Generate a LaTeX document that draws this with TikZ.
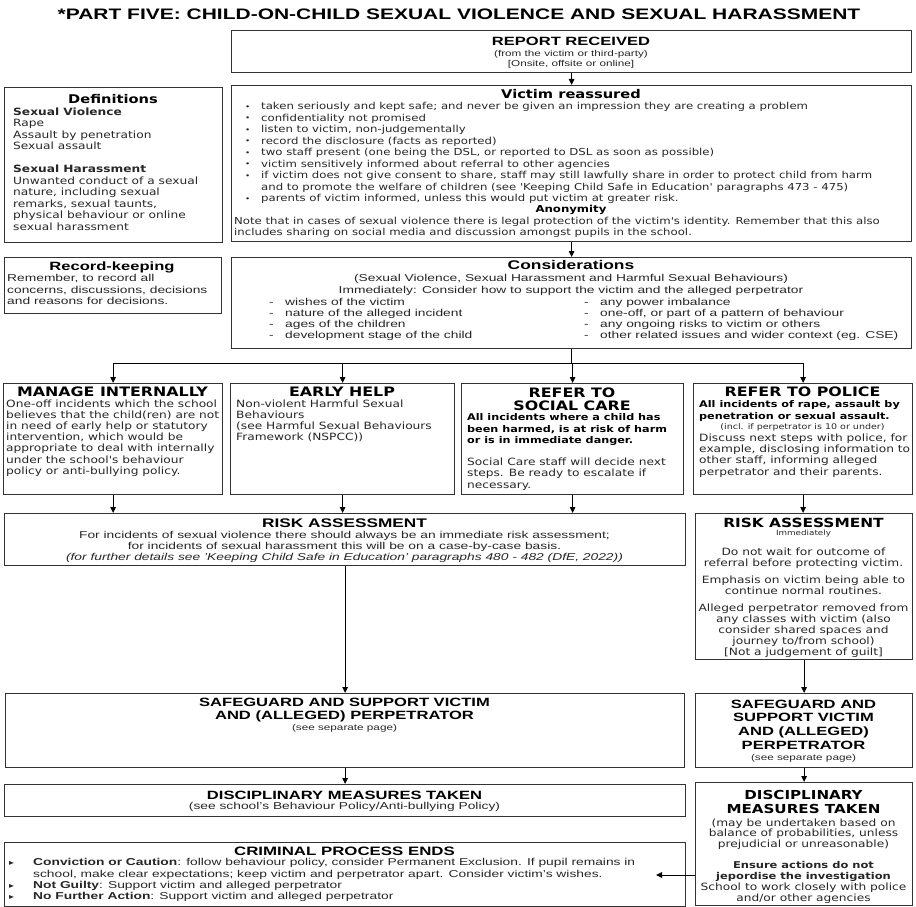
\documentclass[tikz,border=0pt]{standalone}
\usepackage{graphicx}
\usepackage{fontspec}
\setmainfont[FakeStretch=1.38]{Liberation Sans}
\newfontfamily\verdfont[FakeStretch=1.22]{DejaVu Sans}
\usetikzlibrary{arrows.meta}

% font helpers: size, baselineskip
\newcommand{\fA}[2]{\fontsize{#1}{#2}\selectfont}
\newcommand{\fV}[2]{\verdfont\fontsize{#1}{#2}\selectfont}
\newcommand{\blt}{\makebox[16pt][l]{\raisebox{0.6pt}{\scalebox{0.75}{•}}}}
\newcommand{\dsh}{\makebox[16pt][l]{-}}
\newcommand{\tri}{\makebox[24pt][l]{{\verdfont\scalebox{0.8}{▸}}}}

\tikzset{
  box/.style={draw=black!80, line width=1.2pt, anchor=north west, inner sep=0pt},
  lbl/.style={inner sep=0pt, text=black!85},
  flow/.style={-{Triangle[length=6pt,width=5.5pt]}, line width=1pt},
  link/.style={line width=1pt},
}

\begin{document}
\begin{tikzpicture}[x=1pt,y=-1pt]
\useasboundingbox (0,0) rectangle (916,907);

\node[lbl, anchor=base, text=black, font=\fA{15.2}{18}\bfseries] (title) at (459,19.5) {*PART FIVE: CHILD-ON-CHILD SEXUAL VIOLENCE AND SEXUAL HARASSMENT};

% report received
\node[box, minimum width=680pt, minimum height=42pt] (report) at (231,30) {};
\node[lbl, anchor=base, text=black, font=\fA{12}{14}\bfseries] (reporthd) at (571,45.3) {REPORT RECEIVED};
\node[lbl, anchor=base, font=\fA{8.5}{10}] (reportfrom) at (571,56.2) {(from the victim or third-party)};
\node[lbl, anchor=base, font=\fA{8.5}{10}] (reportwhere) at (571,66.2) {[Onsite, offsite or online]};

% definitions
\node[box, minimum width=218pt, minimum height=155pt] (defs) at (4,87) {};
\node[lbl, anchor=base, text=black, font=\fV{12}{14}\bfseries] (defshd) at (113,103) {Definitions};
\node[lbl, anchor=north west, align=left, font=\fV{10}{11.5}] (defstx) at (13,107.3) {%
{\bfseries Sexual Violence}\\
Rape\\
Assault by penetration\\
Sexual assault\\[11.5pt]
{\bfseries Sexual Harassment}\\
Unwanted conduct of a sexual\\
nature, including sexual\\
remarks, sexual taunts,\\
physical behaviour or online\\
sexual harassment};

% victim reassured
\node[box, minimum width=680pt, minimum height=156pt] (victim) at (231,85) {};
\node[lbl, anchor=base, text=black, font=\fV{12}{14}\bfseries] (victimhd) at (571,99) {Victim reassured};
\node[lbl, anchor=north west, align=left, font=\fV{9.6}{11.5}] (victimtx) at (245,102.5) {%
\blt taken seriously and kept safe; and never be given an impression they are creating a problem\\
\blt confidentiality not promised\\
\blt listen to victim, non-judgementally\\
\blt record the disclosure (facts as reported)\\
\blt two staff present (one being the DSL, or reported to DSL as soon as possible)\\
\blt victim sensitively informed about referral to other agencies\\
\blt if victim does not give consent to share, staff may still lawfully share in order to protect child from harm\\
\hspace*{16pt}and to promote the welfare of children (see 'Keeping Child Safe in Education' paragraphs 473 - 475)\\
\blt parents of victim informed, unless this would put victim at greater risk.};
\node[lbl, anchor=base, text=black, font=\fV{9.6}{11.5}\bfseries] (anonhd) at (571,212.6) {Anonymity};
\node[lbl, anchor=north west, align=left, font=\fV{9.6}{11.5}] (anontx) at (234,217) {%
Note that in cases of sexual violence there is legal protection of the victim's identity. Remember that this also\\
includes sharing on social media and discussion amongst pupils in the school.};

% record-keeping
\node[box, minimum width=217pt, minimum height=56pt] (records) at (4,257) {};
\node[lbl, anchor=base, text=black, font=\fA{12}{14}\bfseries] (recordshd) at (112,270) {Record-keeping};
\node[lbl, anchor=north west, align=left, font=\fA{10}{11.3}] (recordstx) at (7,274.3) {%
Remember, to record all\\
concerns, discussions, decisions\\
and reasons for decisions.};

% considerations
\node[box, minimum width=680pt, minimum height=91pt] (consid) at (231,257) {};
\node[lbl, anchor=base, text=black, font=\fA{12.6}{14}\bfseries] (considhd) at (571,269.5) {Considerations};
\node[lbl, anchor=north, align=center, font=\fA{10}{12}] (considtx) at (571,274.3) {%
(Sexual Violence, Sexual Harassment and Harmful Sexual Behaviours)\\
Immediately: Consider how to support the victim and the alleged perpetrator};
\node[lbl, anchor=north west, align=left, font=\fA{10}{11}] (considl) at (269,298.3) {%
\dsh wishes of the victim\\
\dsh nature of the alleged incident\\
\dsh ages of the children\\
\dsh development stage of the child};
\node[lbl, anchor=north west, align=left, font=\fA{10}{11}] (considr) at (584,298.3) {%
\dsh any power imbalance\\
\dsh one-off, or part of a pattern of behaviour\\
\dsh any ongoing risks to victim or others\\
\dsh other related issues and wider context (eg. CSE)};

% four routes
\node[box, minimum width=219pt, minimum height=111pt] (manage) at (3,383) {};
\node[lbl, anchor=base, text=black, font=\fV{13}{15}\bfseries] (managehd) at (112.5,396.7) {MANAGE INTERNALLY};
\node[lbl, anchor=north west, align=left, font=\fV{10}{11.2}] (managetx) at (6,399.3) {%
One-off incidents which the school\\
believes that the child(ren) are not\\
in need of early help or statutory\\
intervention, which would be\\
appropriate to deal with internally\\
under the school's behaviour\\
policy or anti-bullying policy.};

\node[box, minimum width=224pt, minimum height=111pt] (early) at (230,383) {};
\node[lbl, anchor=base, text=black, font=\fV{13}{15}\bfseries] (earlyhd) at (342,396.7) {EARLY HELP};
\node[lbl, anchor=north west, align=left, font=\fV{10}{11.2}] (earlytx) at (236,399.3) {%
Non-violent Harmful Sexual\\
Behaviours\\
(see Harmful Sexual Behaviours\\
Framework (NSPCC))};

\node[box, minimum width=222pt, minimum height=111pt] (social) at (461,383) {};
\node[lbl, anchor=north, align=center, text=black, font=\fV{13}{13}\bfseries] (socialhd) at (572,387.2) {REFER TO\\SOCIAL CARE};
\node[lbl, anchor=north west, align=left, text=black, font=\fV{9.2}{11.5}\bfseries] (socialwho) at (467,413.7) {%
All incidents where a child has\\
been harmed, is at risk of harm\\
or is in immediate danger.};
\node[lbl, anchor=north west, align=left, font=\fV{10}{11.5}] (socialtx) at (467,457.3) {%
Social Care staff will decide next\\
steps. Be ready to escalate if\\
necessary.};

\node[box, minimum width=219pt, minimum height=111pt] (police) at (693,383) {};
\node[lbl, anchor=base, text=black, font=\fV{13}{15}\bfseries] (policehd) at (802.5,396.7) {REFER TO POLICE};
\node[lbl, anchor=north west, align=left, text=black, font=\fV{9.2}{12}\bfseries] (policewho) at (699,400.7) {%
All incidents of rape, assault by\\
penetration or sexual assault.};
\node[lbl, anchor=base, font=\fV{7.8}{9}] (policeage) at (802.5,429) {(incl. if perpetrator is 10 or under)};
\node[lbl, anchor=north west, align=left, font=\fV{10}{11.3}] (policetx) at (699,433.3) {%
Discuss next steps with police, for\\
example, disclosing information to\\
other staff, informing alleged\\
perpetrator and their parents.};

% risk assessments
\node[box, minimum width=681pt, minimum height=52pt] (riskl) at (4,513) {};
\node[lbl, anchor=base, text=black, font=\fA{12.5}{14}\bfseries] (risklhd) at (344.5,527.5) {RISK ASSESSMENT};
\node[lbl, anchor=north, align=center, font=\fA{10}{11}] (riskltx) at (344.5,531.3) {%
For incidents of sexual violence there should always be an immediate risk assessment;\\
for incidents of sexual harassment this will be on a case-by-case basis.\\
\itshape (for further details see 'Keeping Child Safe in Education' paragraphs 480 - 482 (DfE, 2022))};

\node[box, minimum width=217pt, minimum height=146pt] (riskr) at (695,513) {};
\node[lbl, anchor=base, text=black, font=\fV{12.6}{14}\bfseries] (riskrhd) at (803.5,527.5) {RISK ASSESSMENT};
\node[lbl, anchor=base, font=\fV{7.2}{9}] (riskrnow) at (803.5,535) {Immediately};
\node[lbl, anchor=north, align=center, font=\fV{10}{11}] (riskrtx) at (803.5,547.3) {%
Do not wait for outcome of\\
referral before protecting victim.\\[6pt]
Emphasis on victim being able to\\
continue normal routines.\\[6pt]
Alleged perpetrator removed from\\
any classes with victim (also\\
consider shared spaces and\\
journey to/from school)\\
{[}Not a judgement of guilt{]}};

% safeguard
\node[box, minimum width=679pt, minimum height=74pt] (safel) at (5,693) {};
\node[lbl, anchor=north, align=center, text=black, font=\fA{12}{13}\bfseries] (safelhd) at (344.5,697.6) {%
SAFEGUARD AND SUPPORT VICTIM\\
AND (ALLEGED) PERPETRATOR};
\node[lbl, anchor=base, font=\fA{8.5}{10}] (safeltx) at (344.5,730.2) {(see separate page)};

\node[box, minimum width=217pt, minimum height=74pt] (safer) at (695,693) {};
\node[lbl, anchor=north, align=center, text=black, font=\fA{12}{13.7}\bfseries] (saferhd) at (803.5,699.6) {%
SAFEGUARD AND\\
SUPPORT VICTIM\\
AND (ALLEGED)\\
PERPETRATOR};
\node[lbl, anchor=base, font=\fA{8.5}{10}] (safertx) at (803.5,760.2) {(see separate page)};

% disciplinary
\node[box, minimum width=681pt, minimum height=32pt] (discl) at (4,784) {};
\node[lbl, anchor=base, text=black, font=\fA{12}{14}\bfseries] (disclhd) at (344.5,799.3) {DISCIPLINARY MEASURES TAKEN};
\node[lbl, anchor=base, font=\fA{10}{12}] (discltx) at (344.5,809.7) {(see school's Behaviour Policy/Anti-bullying Policy)};

\node[box, minimum width=217pt, minimum height=123pt] (discr) at (695,782) {};
\node[lbl, anchor=north, align=center, text=black, font=\fV{12.4}{14}\bfseries] (discrhd) at (803.5,790.4) {%
DISCIPLINARY\\
MEASURES TAKEN};
\node[lbl, anchor=north, align=center, font=\fV{10}{10.5}] (discrtx) at (803.5,818.3) {%
(may be undertaken based on\\
balance of probabilities, unless\\
prejudicial or unreasonable)};
\node[lbl, anchor=north, align=center, font=\fV{10}{11}] (discrnote) at (803.5,861.5) {%
{\fontsize{9.4}{11}\selectfont\bfseries Ensure actions do not}\\
{\fontsize{9.4}{11}\selectfont\bfseries jepordise the investigation}\\
School to work closely with police\\
and/or other agencies};

% criminal process
\node[box, minimum width=681pt, minimum height=64pt] (crime) at (4,842) {};
\node[lbl, anchor=base, text=black, font=\fA{12.2}{14}\bfseries] (crimehd) at (344.5,855.4) {CRIMINAL PROCESS ENDS};
\node[lbl, anchor=north west, align=left, font=\fA{10}{11.4}] (crimetx) at (9,858.3) {%
\tri{\bfseries Conviction or Caution}: follow behaviour policy, consider Permanent Exclusion. If pupil remains in\\
\hspace*{24pt}school, make clear expectations; keep victim and perpetrator apart. Consider victim's wishes.\\
\tri{\bfseries Not Guilty}: Support victim and alleged perpetrator\\
\tri{\bfseries No Further Action}: Support victim and alleged perpetrator};

% connectors
\draw[flow] (report.south) -- (victim.north);
\draw[flow] (victim.south) -- (consid.north);
\draw[link] (consid.south) -- ++(0,14) coordinate (hub);
\draw[link] (hub -| manage.north) -- (hub -| police.north);
\foreach \route in {manage,early,social,police}
  \draw[flow] (hub -| \route.north) -- (\route.north);
\foreach \route in {manage,early,social}
  \draw[flow] (\route.south) -- (\route.south |- riskl.north);
\draw[flow] (police.south) -- (police.south |- riskr.north);
\draw[flow] (riskl.south) -- (safel.north);
\draw[flow] (riskr.south) -- (safer.north);
\draw[flow] (safel.south) -- (discl.north);
\draw[flow] (safer.south) -- (discr.north);
\coordinate (crimetip) at (656,875);
\draw[flow] (crimetip -| discr.west) -- (crimetip);
\end{tikzpicture}
\end{document}
